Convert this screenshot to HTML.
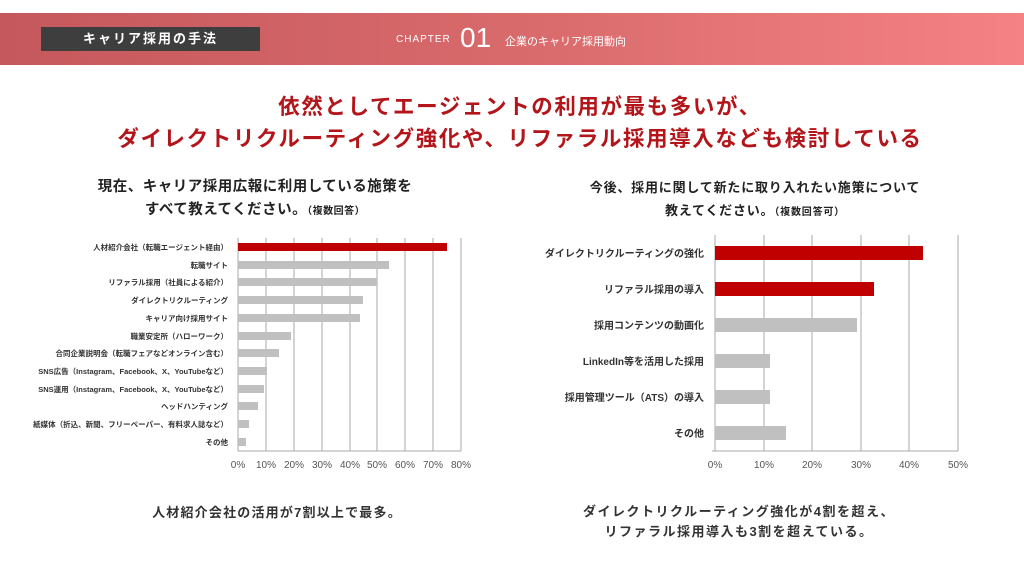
<!DOCTYPE html>
<html><head><meta charset="utf-8"><style>
body{margin:0;width:1024px;height:576px;background:#fff;position:relative;overflow:hidden;font-family:"Liberation Sans","Noto Sans CJK JP",sans-serif;}
.a{position:absolute;white-space:nowrap}
</style></head><body>
<div class="a" style="left:0;top:13px;width:1024px;height:52px;background:linear-gradient(90deg,#c5585c 0%,#d86a6c 50%,#f58284 100%)"></div>
<div class="a" style="left:41px;top:27px;width:219px;height:24px;background:#3e3e3e;color:#fff;font-size:13px;font-weight:bold;line-height:24px;text-align:center;letter-spacing:2px">キャリア採用の手法</div>
<div class="a" style="left:396px;top:34px;color:#fff;font-size:10px;letter-spacing:1px">CHAPTER</div>
<div class="a" style="left:460px;top:22px;color:#fff;font-size:28px;font-weight:300;line-height:32px">01</div>
<div class="a" style="left:505px;top:33px;color:#fff;font-size:11px">企業のキャリア採用動向</div>
<div class="a" style="left:8px;width:1024px;top:91px;text-align:center;color:#b3151a;font-size:21.5px;font-weight:bold;letter-spacing:1.6px;line-height:32px">依然としてエージェントの利用が最も多いが、<br>ダイレクトリクルーティング強化や、リファラル採用導入なども検討している</div>
<div class="a" style="left:60px;width:390px;top:176px;text-align:center;font-size:14.5px;font-weight:bold;line-height:23px;color:#222;letter-spacing:0.5px">現在、キャリア採用広報に利用している施策を<br>すべて教えてください。<span style="font-size:10px">（複数回答）</span></div>
<div class="a" style="left:545px;width:420px;top:176px;text-align:center;font-size:13px;font-weight:bold;line-height:23px;color:#222;letter-spacing:0.8px">今後、採用に関して新たに取り入れたい施策について<br>教えてください。<span style="font-size:10px">（複数回答可）</span></div>
<svg class="a" style="left:0;top:0" width="1024" height="576" font-family="Liberation Sans,Noto Sans CJK JP,sans-serif">
<g stroke="#aaa" stroke-width="1">
<line x1="238" y1="238" x2="238" y2="451"/><line x1="266" y1="238" x2="266" y2="451"/><line x1="294" y1="238" x2="294" y2="451"/><line x1="322" y1="238" x2="322" y2="451"/><line x1="350" y1="238" x2="350" y2="451"/><line x1="377" y1="238" x2="377" y2="451"/><line x1="405" y1="238" x2="405" y2="451"/><line x1="433" y1="238" x2="433" y2="451"/><line x1="461" y1="238" x2="461" y2="451"/>
<line x1="715" y1="235" x2="715" y2="451"/><line x1="764" y1="235" x2="764" y2="451"/><line x1="812" y1="235" x2="812" y2="451"/><line x1="861" y1="235" x2="861" y2="451"/><line x1="909" y1="235" x2="909" y2="451"/><line x1="958" y1="235" x2="958" y2="451"/>
<line x1="238" y1="451" x2="461" y2="451"/><line x1="712" y1="451" x2="958" y2="451"/>
</g>
<g fill="#c0c0c0">
<rect x="238" y="243" width="209" height="8" fill="#c00000"/>
<rect x="238" y="261" width="151" height="8"/><rect x="238" y="278" width="139" height="8"/><rect x="238" y="296" width="125" height="8"/><rect x="238" y="314" width="122" height="8"/><rect x="238" y="332" width="53" height="8"/><rect x="238" y="349" width="41" height="8"/><rect x="238" y="367" width="29" height="8"/><rect x="238" y="385" width="26" height="8"/><rect x="238" y="402" width="20" height="8"/><rect x="238" y="420" width="11" height="8"/><rect x="238" y="438" width="8" height="8"/>
<rect x="715" y="246" width="208" height="14" fill="#c00000"/><rect x="715" y="282" width="159" height="14" fill="#c00000"/>
<rect x="715" y="318" width="142" height="14"/><rect x="715" y="354" width="55" height="14"/><rect x="715" y="390" width="55" height="14"/><rect x="715" y="426" width="71" height="14"/>
</g>
<g font-size="7.5" font-weight="bold" fill="#333" text-anchor="end">
<text x="228" y="250">人材紹介会社（転職エージェント経由）</text><text x="228" y="268">転職サイト</text><text x="228" y="285">リファラル採用（社員による紹介）</text><text x="228" y="303">ダイレクトリクルーティング</text><text x="228" y="321">キャリア向け採用サイト</text><text x="228" y="339">職業安定所（ハローワーク）</text><text x="228" y="356">合同企業説明会（転職フェアなどオンライン含む）</text><text x="228" y="374">SNS広告（Instagram、Facebook、X、YouTubeなど）</text><text x="228" y="392">SNS運用（Instagram、Facebook、X、YouTubeなど）</text><text x="228" y="409">ヘッドハンティング</text><text x="228" y="427">紙媒体（折込、新聞、フリーペーパー、有料求人誌など）</text><text x="228" y="445">その他</text>
</g>
<g font-size="10" font-weight="bold" fill="#333" text-anchor="end">
<text x="704" y="257">ダイレクトリクルーティングの強化</text><text x="704" y="293">リファラル採用の導入</text><text x="704" y="329">採用コンテンツの動画化</text><text x="704" y="365">LinkedIn等を活用した採用</text><text x="704" y="401">採用管理ツール（ATS）の導入</text><text x="704" y="437">その他</text>
</g>
<g font-size="10" fill="#555" text-anchor="middle">
<text x="238" y="468">0%</text><text x="266" y="468">10%</text><text x="294" y="468">20%</text><text x="322" y="468">30%</text><text x="350" y="468">40%</text><text x="377" y="468">50%</text><text x="405" y="468">60%</text><text x="433" y="468">70%</text><text x="461" y="468">80%</text>
<text x="715" y="468">0%</text><text x="764" y="468">10%</text><text x="812" y="468">20%</text><text x="861" y="468">30%</text><text x="909" y="468">40%</text><text x="958" y="468">50%</text>
</g>
</svg>
<div class="a" style="left:82px;width:390px;top:502px;text-align:center;font-size:13px;font-weight:bold;color:#333;letter-spacing:1.2px">人材紹介会社の活用が7割以上で最多。</div>
<div class="a" style="left:509px;width:460px;top:502px;text-align:center;font-size:13px;font-weight:bold;color:#333;line-height:20px;letter-spacing:1.5px">ダイレクトリクルーティング強化が4割を超え、<br>リファラル採用導入も3割を超えている。</div>
</body></html>
